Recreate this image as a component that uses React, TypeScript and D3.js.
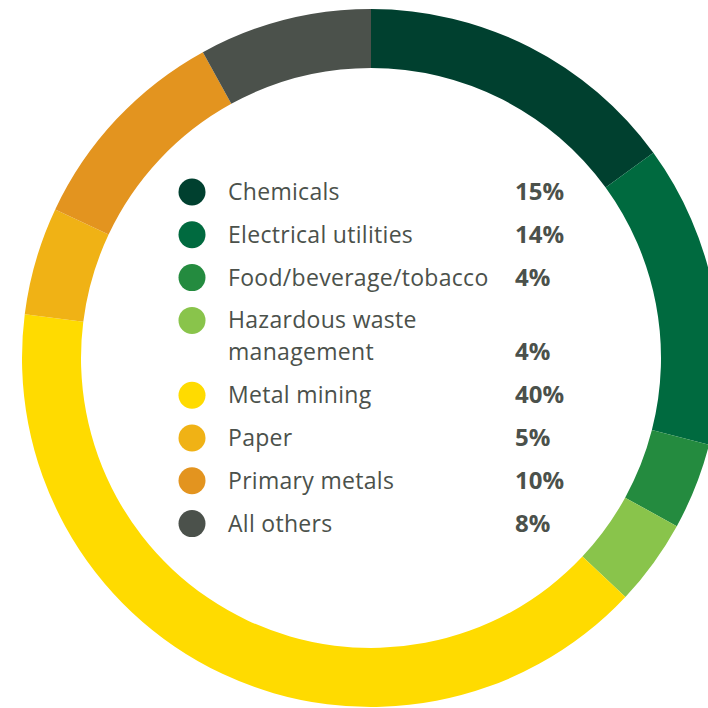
import React from "react";
import * as d3 from "d3";

const categories = [
  "Chemicals",
  "Electrical utilities",
  "Food/beverage/tobacco",
  "Hazardous waste management",
  "Metal mining",
  "Paper",
  "Primary metals",
  "All others",
];
const labelLines = [
  ["Chemicals"],
  ["Electrical utilities"],
  ["Food/beverage/tobacco"],
  ["Hazardous waste", "management"],
  ["Metal mining"],
  ["Paper"],
  ["Primary metals"],
  ["All others"],
];
const values = [15, 14, 4, 4, 40, 5, 10, 8];
const colors = ["#00402f", "#006a3f", "#248b3f", "#89c44b", "#ffdb00", "#f0b215", "#e3941f", "#4b514b"];

export default function App() {
  const W = 708, H = 708;
  const cx = 371, cy = 358, R = 349, r = 290;
  const pie = d3.pie<number>().sort(null).value((d) => d);
  const arcs = pie(values);
  const arc = d3.arc<d3.PieArcDatum<number>>().innerRadius(r).outerRadius(R);

  const textColor = "#4b514b";
  const font = "'Open Sans', 'Noto Sans', sans-serif";
  let y = 192;
  const rows: { i: number; y: number }[] = [];
  labelLines.forEach((lines, i) => {
    rows.push({ i, y });
    y += 42.8 + (lines.length - 1) * 32;
  });

  return (
    <svg width={W} height={H} style={{ position: "absolute", left: 0, top: 0 }}>
      <g transform={`translate(${cx},${cy})`}>
        {arcs.map((a, i) => (
          <path key={categories[i]} d={arc(a) || ""} fill={colors[i]} />
        ))}
      </g>
      {rows.map(({ i, y }) => {
        const lines = labelLines[i];
        return (
          <g key={i}>
            <circle cx={192} cy={y} r={13.5} fill={colors[i]} />
            {lines.map((t, k) => (
              <text key={k} x={228} y={y + 8 + k * 32} fontFamily={font} fontSize={23} letterSpacing={0.3} fill={textColor}>
                {t}
              </text>
            ))}
            <text x={515} y={y + 8 + (lines.length - 1) * 32} fontFamily={font} fontSize={24} fontWeight="bold" fill={textColor}>
              {values[i]}%
            </text>
          </g>
        );
      })}
    </svg>
  );
}
